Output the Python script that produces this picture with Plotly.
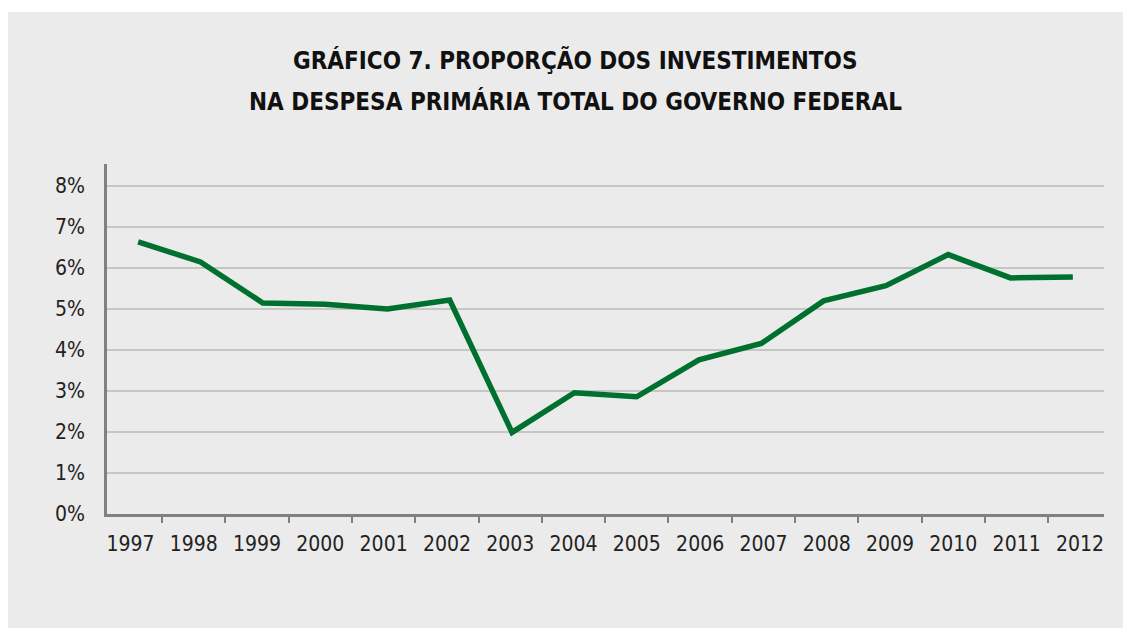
import plotly.graph_objects as go

years = ["1997", "1998", "1999", "2000", "2001", "2002", "2003", "2004",
         "2005", "2006", "2007", "2008", "2009", "2010", "2011", "2012"]
values = [6.64, 6.15, 5.15, 5.12, 5.00, 5.22, 1.99, 2.96,
          2.86, 3.76, 4.16, 5.20, 5.57, 6.33, 5.76, 5.78]
ytick_vals = [0, 1, 2, 3, 4, 5, 6, 7, 8]
ytick_text = ["0%", "1%", "2%", "3%", "4%", "5%", "6%", "7%", "8%"]
title_1 = "GRÁFICO 7. PROPORÇÃO DOS INVESTIMENTOS"
title_2 = "NA DESPESA PRIMÁRIA TOTAL DO GOVERNO FEDERAL"

OFF = 8  # page body margin
W, H = 1131 - OFF, 628 - OFF
# target plot area in window pixels: x 107..1104, y 164..514
L, T = 107 - OFF, 164 - OFF
R, B = 1131 - 1104, 628 - 514
pw, ph = W - L - R, H - T - B


def px_x(x):  # window pixel -> paper x
    return (x - 107) / pw


def px_y(y):  # window pixel -> paper y
    return (514 - y) / ph


BG = "#ebebeb"
GREEN = "#00702f"
NARROW = "DejaVu Sans Condensed, Liberation Sans Narrow, Arial Narrow, sans-serif"

fig = go.Figure()
fig.add_trace(go.Scatter(
    x=list(range(len(years))), y=values, mode="lines",
    line=dict(color=GREEN, width=5.5), xaxis="x", yaxis="y",
    showlegend=False, hoverinfo="x+y"))
fig.add_trace(go.Scatter(
    x=years, y=values, mode="lines", line=dict(width=0), opacity=0,
    xaxis="x2", yaxis="y", showlegend=False, hoverinfo="skip"))

fig.update_layout(
    width=W, height=H,
    margin=dict(l=L, r=R, t=T, b=B, pad=0),
    paper_bgcolor="white", plot_bgcolor=BG,
    xaxis=dict(range=[-0.5, 15.5], showgrid=False, zeroline=False,
               showticklabels=False, showline=False, ticks=""),
    xaxis2=dict(type="category", overlaying="x", side="bottom",
                categoryorder="array", categoryarray=years,
                range=[-0.37, 15.38], showgrid=False, zeroline=False,
                showline=True, linecolor="#808080", linewidth=2.5,
                ticks="outside", tickson="boundaries", ticklen=6,
                tickwidth=2, tickcolor="#808080",
                tickfont=dict(family=NARROW, size=21, color="#222222"),
                ticklabelstandoff=9),
    yaxis=dict(range=[0, 8.54], tickvals=ytick_vals, ticktext=ytick_text,
               showgrid=True, gridcolor="#c6c6c6", gridwidth=1.5,
               zeroline=False, showline=True, linecolor="#808080",
               linewidth=2.5, ticks="", ticklabelstandoff=15,
               tickfont=dict(family=NARROW, size=21, color="#222222")),
    shapes=[dict(type="rect", xref="paper", yref="paper", layer="below",
                 x0=px_x(8), x1=px_x(1131), y0=px_y(630), y1=px_y(12),
                 fillcolor=BG, line=dict(width=0))],
    annotations=[
        dict(text=title_1, xref="paper", yref="paper",
             x=px_x(575), y=px_y(60), xanchor="center",
             yanchor="middle", showarrow=False,
             font=dict(family=NARROW, size=24, color="#111111", weight="bold")),
        dict(text=title_2, xref="paper", yref="paper",
             x=px_x(575), y=px_y(101), xanchor="center",
             yanchor="middle", showarrow=False,
             font=dict(family=NARROW, size=24, color="#111111", weight="bold")),
    ],
)

fig.write_html("out.html")
